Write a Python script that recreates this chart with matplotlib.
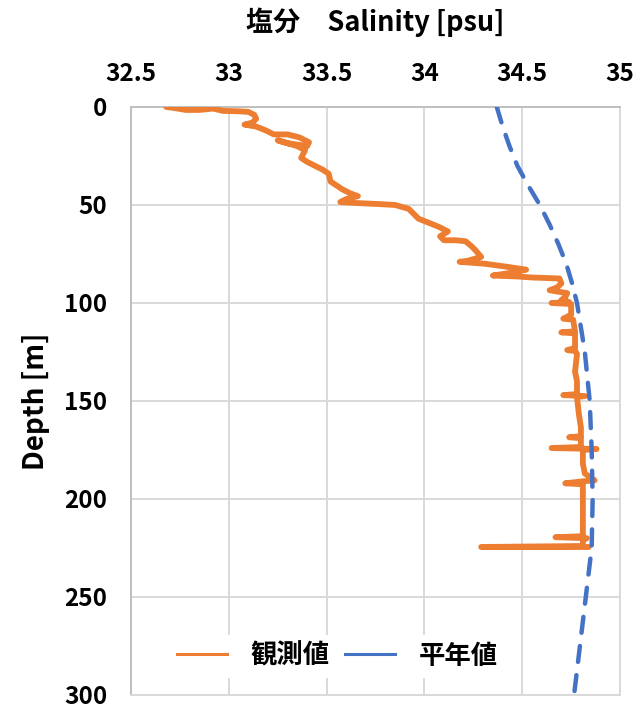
import matplotlib
matplotlib.use("Agg")
import matplotlib.pyplot as plt
from matplotlib.lines import Line2D

plt.rcParams['font.family'] = ['Noto Sans CJK JP', 'DejaVu Sans']

# Observed salinity profile (psu) against depth (m), in cast order
obs_salinity = [32.68, 32.72, 32.78, 32.85, 32.92, 32.97, 33.05, 33.10, 33.13, 33.14,
                33.12, 33.08, 33.14, 33.19, 33.23, 33.30, 33.36, 33.41, 33.40, 33.37,
                33.30, 33.25, 33.35, 33.39, 33.37, 33.40, 33.44, 33.48, 33.51, 33.52,
                33.55, 33.58, 33.62, 33.66, 33.60, 33.57, 33.65, 33.76, 33.85, 33.92,
                33.95, 33.97, 34.02, 34.07, 34.12, 34.08, 34.10, 34.16, 34.21, 34.24,
                34.26, 34.29, 34.22, 34.18, 34.31, 34.42, 34.52, 34.45, 34.35, 34.48,
                34.55, 34.69, 34.70, 34.68, 34.64, 34.73, 34.72, 34.70, 34.74,
                34.65, 34.75, 34.75, 34.71, 34.76, 34.77, 34.70, 34.77, 34.77,
                34.73, 34.77, 34.78, 34.77, 34.78, 34.78, 34.71, 34.82, 34.78,
                34.79, 34.80, 34.80, 34.74, 34.80, 34.80, 34.65, 34.88, 34.81,
                34.81, 34.82, 34.87, 34.81, 34.72, 34.81, 34.81, 34.81, 34.81,
                34.81, 34.67, 34.83, 34.81, 34.81, 34.29, 34.84]
obs_depth = [0.0, 0.5, 1.5, 1.5, 0.8, 2.0, 2.2, 2.5, 4.0, 6.0,
             8.0, 9.0, 10.0, 12.0, 14.0, 14.0, 15.5, 18.0, 20.0, 19.5,
             18.5, 17.0, 20.0, 22.0, 26.0, 28.0, 30.0, 32.0, 34.0, 38.0,
             40.0, 42.0, 44.0, 45.5, 47.0, 48.5, 49.0, 49.5, 50.0, 52.0,
             55.0, 57.0, 59.0, 61.0, 63.5, 66.0, 68.0, 68.0, 68.5, 71.0,
             73.0, 76.5, 78.5, 79.0, 80.0, 81.5, 83.0, 84.5, 86.0, 86.5,
             87.0, 87.5, 90.0, 92.0, 93.5, 95.0, 97.0, 98.5, 99.5,
             100.0, 100.5, 106.0, 108.0, 108.5, 114.5, 115.0, 115.5, 123.0,
             124.0, 124.5, 126.0, 135.0, 140.0, 146.5, 147.0, 147.5, 148.0,
             157.0, 163.5, 168.0, 168.5, 169.0, 173.5, 174.0, 174.5, 175.0,
             182.0, 187.0, 190.5, 191.0, 192.0, 192.5, 200.0, 208.0, 216.0,
             219.0, 219.5, 220.0, 221.0, 224.0, 224.5, 224.5]

# Climatological (normal-year) salinity profile
clim_depth = [0, 10, 20, 30, 40, 50, 60, 70, 80, 90, 100, 125, 150, 175, 200,
              225, 250, 275, 300]
clim_salinity = [34.37, 34.40, 34.435, 34.475, 34.53, 34.59, 34.64, 34.685, 34.725,
                 34.755, 34.78, 34.82, 34.845, 34.855, 34.86, 34.855, 34.825,
                 34.795, 34.765]

x_ticks = [32.5, 33, 33.5, 34, 34.5, 35]
x_tick_labels = ["32.5", "33", "33.5", "34", "34.5", "35"]
y_ticks = [0, 50, 100, 150, 200, 250, 300]

series_labels = ["観測値", "平年値"]
orange = "#ED7D31"
blue = "#4472C4"

fig = plt.figure(figsize=(6.4, 7.08), dpi=100)
ax = fig.add_axes([0.2047, 0.0184, 0.7641, 0.8305])

ax.plot(obs_salinity, obs_depth, color=orange, lw=4.2,
        solid_joinstyle="round", solid_capstyle="round", zorder=3)
ax.plot(clim_salinity, clim_depth, color=blue, lw=3.2,
        linestyle=(0, (3.6, 3.0)), dash_capstyle="round", zorder=4)

ax.set_xlim(32.5, 35)
ax.set_ylim(300, 0)
ax.xaxis.tick_top()
ax.set_xticks(x_ticks)
ax.set_xticklabels(x_tick_labels)
ax.set_yticks(y_ticks)

ax.grid(True, color="#d9d9d9", lw=1.4, zorder=0)
ax.set_axisbelow(True)
for side in ["left", "top"]:
    ax.spines[side].set_color("#bfbfbf")
    ax.spines[side].set_linewidth(1.4)
for side in ["right", "bottom"]:
    ax.spines[side].set_color("#d9d9d9")
    ax.spines[side].set_linewidth(1.4)

ax.tick_params(axis="both", length=0, labelsize=17.5, colors="black")
ax.tick_params(axis="x", pad=15)
ax.tick_params(axis="y", pad=17)
for lab in ax.get_xticklabels() + ax.get_yticklabels():
    lab.set_fontweight("bold")

ax.set_ylabel("Depth [m]", fontsize=20, fontweight="bold", labelpad=10)

fig.text(0.5867, 0.969, "塩分\u3000Salinity [psu]", ha="center", va="center",
         fontsize=19.5, fontweight="bold")

handles = [Line2D([], [], color=orange, lw=2.2),
           Line2D([], [], color=blue, lw=2.2)]
leg = ax.legend(handles, series_labels, loc="center", bbox_to_anchor=(0.422, 0.066),
                ncol=2, frameon=True, fancybox=False, framealpha=1.0,
                facecolor="white", edgecolor="none", handlelength=1.9,
                handletextpad=0.9, columnspacing=0.57, borderpad=0.3,
                prop={"size": 19, "weight": "bold"})

fig.savefig("out.png", dpi=100)
